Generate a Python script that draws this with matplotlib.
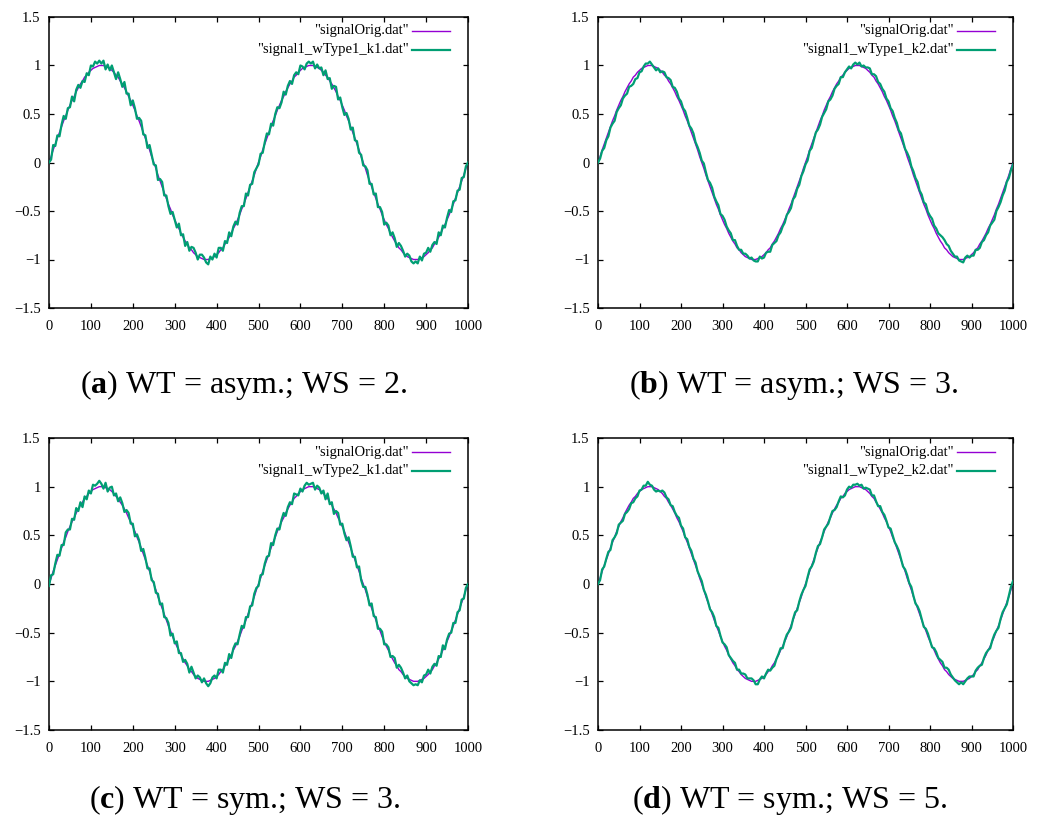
import numpy as np
import matplotlib
matplotlib.use("Agg")
import matplotlib.pyplot as plt
from matplotlib.ticker import FixedLocator, FuncFormatter

SERIF = "Liberation Serif"
plt.rcParams["mathtext.fontset"] = "custom"
plt.rcParams["mathtext.rm"] = SERIF
plt.rcParams["mathtext.bf"] = SERIF + ":bold"

# Sample positions (every 5 samples of the 1000-sample record)
x = np.arange(0, 1001, 5)

# Original signal, read at every 5th sample
signal_orig = [
    0.00, 0.06, 0.13, 0.19, 0.25, 0.31, 0.37, 0.43, 0.48, 0.54, 0.59, 0.64, 0.68, 0.73, 0.77, 0.81, 0.84, 0.88, 0.90, 0.93, 0.95, 0.97, 0.98, 0.99, 1.00,
    1.00, 1.00, 0.99, 0.98, 0.97, 0.95, 0.93, 0.90, 0.88, 0.84, 0.81, 0.77, 0.73, 0.68, 0.64, 0.59, 0.54, 0.48, 0.43, 0.37, 0.31, 0.25, 0.19, 0.13, 0.06,
    0.00, -0.06, -0.13, -0.19, -0.25, -0.31, -0.37, -0.43, -0.48, -0.54, -0.59, -0.64, -0.68, -0.73, -0.77, -0.81, -0.84, -0.88, -0.90, -0.93, -0.95, -0.97, -0.98, -0.99, -1.00,
    -1.00, -1.00, -0.99, -0.98, -0.97, -0.95, -0.93, -0.90, -0.88, -0.84, -0.81, -0.77, -0.73, -0.68, -0.64, -0.59, -0.54, -0.48, -0.43, -0.37, -0.31, -0.25, -0.19, -0.13, -0.06,
    0.00, 0.06, 0.13, 0.19, 0.25, 0.31, 0.37, 0.43, 0.48, 0.54, 0.59, 0.64, 0.68, 0.73, 0.77, 0.81, 0.84, 0.88, 0.90, 0.93, 0.95, 0.97, 0.98, 0.99, 1.00,
    1.00, 1.00, 0.99, 0.98, 0.97, 0.95, 0.93, 0.90, 0.88, 0.84, 0.81, 0.77, 0.73, 0.68, 0.64, 0.59, 0.54, 0.48, 0.43, 0.37, 0.31, 0.25, 0.19, 0.13, 0.06,
    0.00, -0.06, -0.13, -0.19, -0.25, -0.31, -0.37, -0.43, -0.48, -0.54, -0.59, -0.64, -0.68, -0.73, -0.77, -0.81, -0.84, -0.88, -0.90, -0.93, -0.95, -0.97, -0.98, -0.99, -1.00,
    -1.00, -1.00, -0.99, -0.98, -0.97, -0.95, -0.93, -0.90, -0.88, -0.84, -0.81, -0.77, -0.73, -0.68, -0.64, -0.59, -0.54, -0.48, -0.43, -0.37, -0.31, -0.25, -0.19, -0.13, -0.06,
    0.00,
]

# Residual of each processed signal against the original (hundredths)
resid_w1_k1 = [
    0, -3, 5, -2, 3, -4, 2, 5, -3, 2, -2, 4, -5, 2, 3, -4, 0, -5, 2, -3, 5, 2, 6, 3, 5,
    2, 5, -3, 3, -2, 5, 0, -4, 5, 2, -3, 6, -2, 3, -5, 5, 2, -3, 3, 6, -2, 3, -4, 5, 2,
    -2, 3, -5, 2, 5, -3, 3, -2, -5, 3, 0, -3, 5, -2, 3, -5, 2, -3, 3, 5, 2, -3, 3, 4, 2,
    -3, -5, 2, -2, 3, -3, 5, 2, -3, 3, -2, 5, -3, 2, 3, -5, 2, 3, -2, 5, -3, 2, -3, 3, 0,
    -2, 3, -3, 2, 5, -2, 3, -5, 2, 3, -3, -2, 5, -3, 2, 3, -3, 2, 3, -2, 5, 2, -2, 3, 4,
    2, 4, -2, 3, 0, 3, -3, 5, -2, 3, -5, 2, 5, -3, 3, -2, -5, 3, 2, -3, 5, -2, 3, -3, 2,
    -3, 2, 5, -3, 3, -2, 5, -3, 2, 3, -5, 2, 3, -2, 5, 3, -3, 5, 4, 2, -2, 3, 2, -3, -4,
    -2, -4, 2, -3, 3, 2, 5, -2, 3, 2, -3, 5, -2, 3, -3, 2, 5, -3, 3, -2, 2, -3, 3, -2, 2,
    0,
]
resid_w1_k2 = [
    0, -2, -1, -4, -2, -4, -1, -3, -5, -2, -3, -5, -2, -4, -6, -3, -5, -7, -4, -6, -2, -3, 1, 3, 2,
    4, 1, -1, -3, 0, -2, 1, 3, 0, 3, 4, 1, 4, 5, 2, 4, 2, 5, 3, 1, 4, 5, 2, 3, 4,
    2, 5, 3, 1, 4, 5, 2, 3, 4, 1, 4, 5, 2, 3, 4, 1, 4, 2, 0, 3, 1, 3, 2, 0, 2,
    -1, -2, -3, 1, -2, -3, 0, -2, -4, -1, -2, -4, -2, -4, -2, -3, 0, -3, -4, -1, -4, -2, -4, -1, -3,
    -2, -4, -1, -4, -2, 0, -3, -4, -1, -3, -4, -1, -3, -4, -1, -2, -3, 0, -2, 0, 1, 2, -1, 2, 3,
    1, 3, 0, 2, 1, 3, 4, 1, 3, 5, 2, 4, 3, 5, 2, 4, 2, 5, 3, 4, 2, 5, 3, 1, 4,
    5, 2, 4, 3, 5, 2, 4, 2, 5, 3, 4, 6, 3, 5, 4, 6, 7, 8, 6, 7, 4, 3, 1, 2, -1,
    -2, -3, 1, 2, -1, -1, -3, 0, -2, -4, -1, -3, -2, -4, -1, -3, -5, -2, -3, -4, -3, -4, -1, -3, -2,
    -2,
]
resid_w2_k1 = [
    -2, 3, -3, 2, 5, -2, 3, -3, 5, 2, -3, 3, -2, 5, -2, 3, -5, 2, -3, 3, -2, 5, 3, 4, 6,
    3, -2, 5, -3, 2, 5, -2, 3, -3, 5, 2, -3, 3, 5, -2, 3, -5, 3, 2, -3, 5, 2, -3, 3, -2,
    2, -3, 3, -2, 5, -3, 2, 3, -5, 3, -2, 5, -3, 2, -3, 3, 2, -3, 5, 2, -2, 3, 2, -2, 3,
    -2, -5, -3, 2, 3, -2, 5, 2, -3, 3, -2, 5, -3, 2, 3, -3, 2, 5, -2, 3, -3, 2, -3, 3, 2,
    -2, 3, -3, 2, 3, -2, 5, -3, 2, 3, -3, 2, 5, -3, 2, 3, -2, 5, 2, -2, 3, -2, 3, 5, 2,
    3, 4, -2, 3, 2, -2, 3, -3, 5, -2, 3, -5, 2, 5, -3, 3, -2, -3, 5, 2, -3, 3, -2, 5, -2,
    -3, 3, 2, -3, 5, -2, 3, -3, 2, 5, -3, 2, 3, -2, 3, 5, -2, 5, 4, 2, -2, 3, -2, -3, -4,
    -3, -4, 0, -3, 3, 2, 5, -2, 3, 2, -3, 3, -2, 5, -3, 2, 3, -2, 3, -3, 2, -2, 3, -2, 2,
    0,
]
resid_w2_k2 = [
    0, -2, 2, -1, 1, 2, -2, 2, 0, -2, 2, -1, -3, -1, -3, -4, -1, -4, -2, -3, 1, 0, 3, 2, 5,
    2, 1, -2, -3, -1, 0, 3, 4, 1, 3, 0, 3, 1, 2, 4, 1, 3, 0, 3, 1, 3, 1, 3, 0, 2,
    3, 0, 2, 1, -1, 2, 3, 0, 3, 1, -1, 2, 3, 0, 1, 2, 3, 0, 2, 1, 3, 4, 1, 2, 3,
    1, -3, -4, 0, 2, -2, 1, 2, -1, -2, -3, 0, 1, 2, -2, 1, 2, -1, -2, 1, 2, -2, 1, 2, 0,
    -2, 1, 2, -1, -2, 1, 2, -2, 0, 2, 0, -2, 1, 2, -1, -2, 1, 2, -1, -2, 2, 3, 1, 3, 2,
    3, 1, 3, 0, 2, 3, 4, 1, 3, 1, -1, 3, 1, 3, 1, -1, 3, 2, 0, 2, 3, 1, -1, 2, 3,
    1, 3, 1, -1, 2, 3, 1, -1, 2, 3, 1, -1, 2, 3, 1, 3, 4, 2, 4, 5, 2, 1, -1, -2, -3,
    -1, -3, -1, 1, 2, 0, -2, 1, 2, 0, -2, 1, 2, 0, -2, 1, 2, 0, -2, 1, 2, 0, -2, 1, 3,
    3,
]

panel_files = ['"signal1_wType1_k1.dat"', '"signal1_wType1_k2.dat"',
               '"signal1_wType2_k1.dat"', '"signal1_wType2_k2.dat"']
panel_resid = [resid_w1_k1, resid_w1_k2, resid_w2_k1, resid_w2_k2]
panel_letters = ["a", "b", "c", "d"]
panel_captions = [" WT = asym.; WS = 2.", " WT = asym.; WS = 3.",
                  " WT = sym.; WS = 3.", " WT = sym.; WS = 5."]

x_ticks = [0, 100, 200, 300, 400, 500, 600, 700, 800, 900, 1000]
y_ticks = [-1.5, -1, -0.5, 0, 0.5, 1, 1.5]

PURPLE = "#9400D3"
GREEN = "#009E73"
FS = 10.5

W, H = 1047, 825
fig = plt.figure(figsize=(W / 100, H / 100), dpi=100)

# axes boxes in pixels: left, right, top, bottom
boxes = [(49, 468, 17, 308), (598, 1013, 17, 308),
         (49, 468, 438, 730), (598, 1013, 438, 730)]
caption_pos = [(244, 393), (794, 393), (245, 808), (790, 808)]


def fmt(v, pos):
    return f"{v:g}".replace("-", "\u2212")


orig = np.array(signal_orig)
for i, (l, r, t, b) in enumerate(boxes):
    ax = fig.add_axes([l / W, 1 - b / H, (r - l) / W, (b - t) / H])
    proc = orig + np.array(panel_resid[i]) / 100.0
    ax.plot(x, orig, color=PURPLE, lw=1.0, zorder=2)
    ax.plot(x, proc, color=GREEN, lw=1.6, zorder=3)
    ax.set_xlim(0, 1000)
    ax.set_ylim(-1.5, 1.5)
    ax.xaxis.set_major_locator(FixedLocator(x_ticks))
    ax.yaxis.set_major_locator(FixedLocator(y_ticks))
    ax.xaxis.set_major_formatter(FuncFormatter(fmt))
    ax.yaxis.set_major_formatter(FuncFormatter(fmt))
    ax.tick_params(direction="in", length=3.5, width=0.9, top=True, right=True,
                   labelsize=FS, colors="black")
    ax.tick_params(axis="x", pad=9)
    ax.tick_params(axis="y", pad=6)
    for lab in ax.get_xticklabels() + ax.get_yticklabels():
        lab.set_family(SERIF)
    for sp in ax.spines.values():
        sp.set_linewidth(1.1)
        sp.set_color("black")

    # key in the upper right corner, labels right-aligned before the sample lines
    for yk, label, col, lw in [(0.952, '"signalOrig.dat"', PURPLE, 1.0),
                               (0.887, panel_files[i], GREEN, 1.6)]:
        ax.text(0.858, yk, label, transform=ax.transAxes, ha="right", va="center",
                fontsize=FS, family=SERIF)
        ax.plot([0.866, 0.957], [yk, yk], transform=ax.transAxes, color=col,
                lw=lw, clip_on=False)

# sub-figure captions with a bold letter
for i, (cx, cy) in enumerate(caption_pos):
    fig.text(cx / W, 1 - cy / H,
             "(" + r"$\mathbf{" + panel_letters[i] + r"}$" + ")" + panel_captions[i],
             ha="center", va="baseline", fontsize=23, family=SERIF)

fig.savefig("out.png", dpi=100)
